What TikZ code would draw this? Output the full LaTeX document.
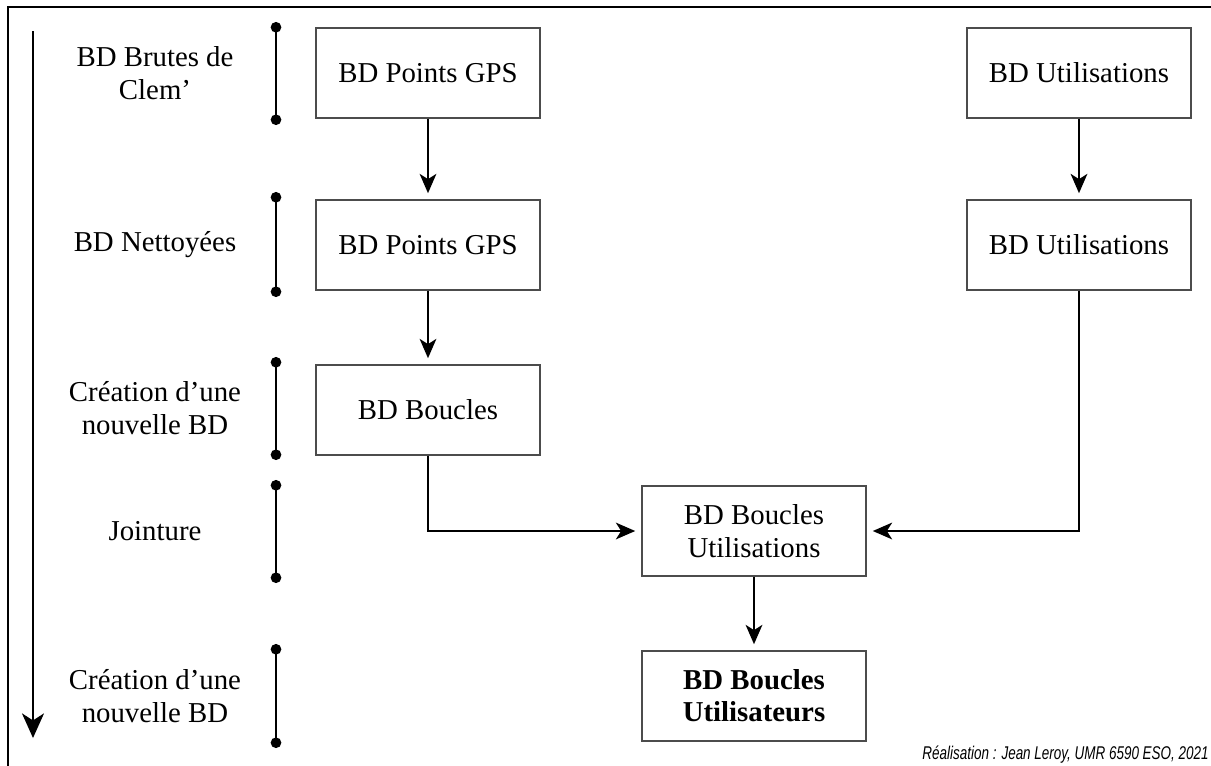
\documentclass[tikz,border=0pt]{standalone}
\usepackage{fontspec}
\setmainfont{Liberation Serif}
\newfontfamily\creditfont{Liberation Sans}
\usetikzlibrary{arrows.meta,positioning}
\newcommand{\diagfont}{\fontsize{16.4pt}{18.4pt}\selectfont}
\tikzset{
  >={Stealth[length=11pt,width=9.5pt,inset=3pt]},
  etape/.style={draw=black!70,line width=0.75pt,minimum width=4.48cm,minimum height=1.8cm,
    align=center,font=\diagfont},
  niveau/.style={align=center,font=\diagfont},
  fleche/.style={->,line width=1.15pt,shorten >=3.5pt},
  barre/.style={line width=1.15pt,{Circle[length=6pt]}-{Circle[length=6pt]}},
  temps/.style={-{Stealth[length=14pt,width=12.5pt,inset=4pt]},line width=1.15pt},
  credit/.style={font=\creditfont\itshape\fontsize{10.5pt}{12pt}\selectfont,inner sep=0pt},
}

\begin{document}
\begin{tikzpicture}[x=0.02cm,y=-0.02cm]
  \useasboundingbox (0,0) rectangle (1211,765);
  % cadre
  \draw[line width=1.2pt] (1215,7) -- (8,7) -- (8,770);

  % axe du temps
  \coordinate (debut) at (33,31);
  \coordinate (fin) at (33,738);
  \draw[temps] (debut) -- (fin);

  % niveaux
  \node[niveau] (n1) at (155,73) {BD Brutes de\\Clem’};
  \node[niveau] (n2) at (155,245) {BD Nettoyées};
  \node[niveau] (n3) at (155,408) {Création d’une\\nouvelle BD};
  \node[niveau] (n4) at (155,531) {Jointure};
  \node[niveau] (n5) at (155,696) {Création d’une\\nouvelle BD};
  \foreach \a/\b in {22/125,192/297,357/460,480/583,644/748}
    \draw[barre] (276,\a) -- (276,\b);

  % bases
  \node[etape] (gps1) at (428,73) {BD Points GPS};
  \node[etape] (util1) at (1079,73) {BD Utilisations};
  \node[etape] (gps2) at (428,245) {BD Points GPS};
  \node[etape] (util2) at (1079,245) {BD Utilisations};
  \node[etape] (boucles) at (428,410) {BD Boucles};
  \node[etape] (jointure) at (754,531) {BD Boucles\\Utilisations};
  \node[etape,font=\diagfont\bfseries] (final) at (754,696) {BD Boucles\\Utilisateurs};

  \draw[fleche] (gps1) -- (gps2);
  \draw[fleche] (util1) -- (util2);
  \draw[fleche] (gps2) -- (boucles);
  \draw[fleche] (boucles.south) |- (jointure.west);
  \draw[fleche] (util2.south) |- (jointure.east);
  \draw[fleche] (jointure) -- (final);

  \node[credit,anchor=base east] (signature) at (1209,759)
    {\scalebox{0.73}[1]{Réalisation : Jean Leroy, UMR 6590 ESO, 2021}};
\end{tikzpicture}
\end{document}
